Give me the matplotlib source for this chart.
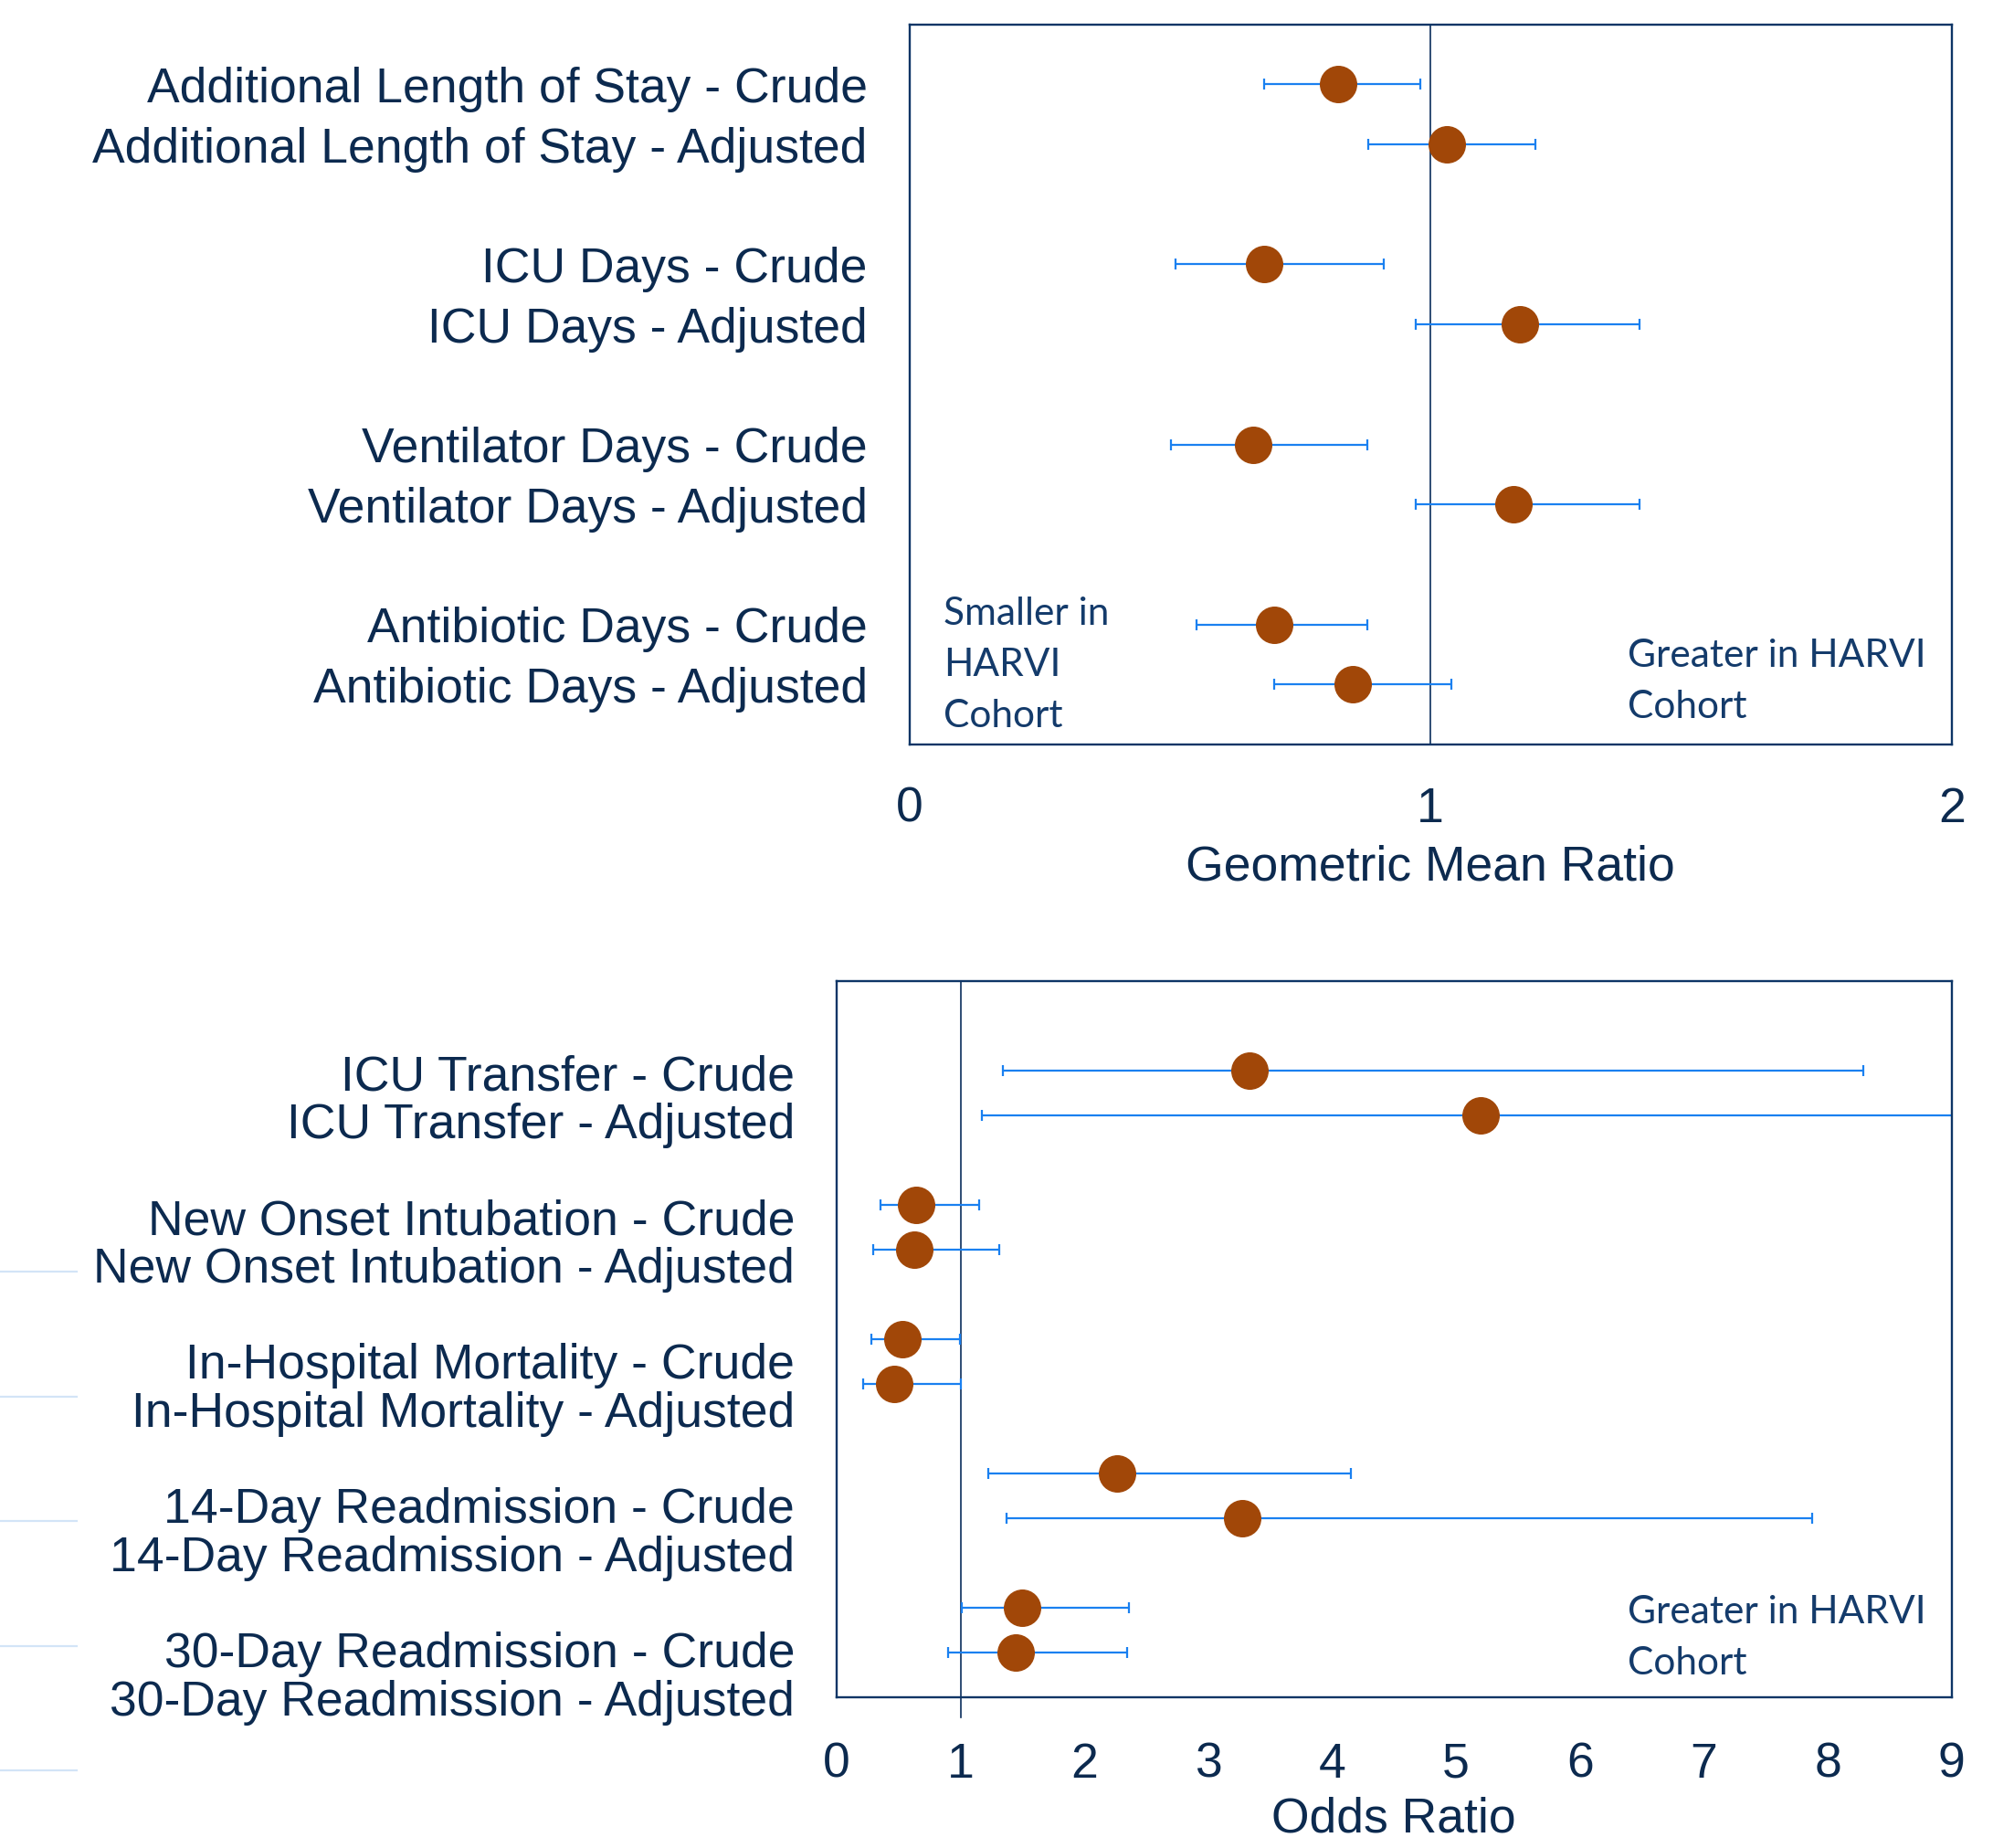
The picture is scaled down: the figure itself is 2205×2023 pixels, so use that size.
import matplotlib
matplotlib.use("Agg")
import matplotlib.pyplot as plt
import numpy as np

# ---------------- data ----------------
top_labels = ["Additional Length of Stay - Crude", "Additional Length of Stay - Adjusted",
              "ICU Days - Crude", "ICU Days - Adjusted",
              "Ventilator Days - Crude", "Ventilator Days - Adjusted",
              "Antibiotic Days - Crude", "Antibiotic Days - Adjusted"]
top_est = [0.822, 1.032, 0.681, 1.171, 0.660, 1.160, 0.700, 0.851]
top_lo = [0.681, 0.881, 0.511, 0.971, 0.501, 0.971, 0.551, 0.700]
top_hi = [0.981, 1.201, 0.911, 1.401, 0.879, 1.401, 0.879, 1.040]
top_ticks = [0, 1, 2]

bot_labels = ["ICU Transfer - Crude", "ICU Transfer - Adjusted",
              "New Onset Intubation - Crude", "New Onset Intubation - Adjusted",
              "In-Hospital Mortality - Crude", "In-Hospital Mortality - Adjusted",
              "14-Day Readmission - Crude", "14-Day Readmission - Adjusted",
              "30-Day Readmission - Crude", "30-Day Readmission - Adjusted"]
bot_est = [3.33, 5.20, 0.64, 0.626, 0.534, 0.466, 2.264, 3.276, 1.497, 1.448]
bot_lo = [1.34, 1.17, 0.356, 0.294, 0.282, 0.215, 1.221, 1.368, 1.012, 0.896]
bot_hi = [8.29, 10.3, 1.153, 1.313, 0.994, 1.006, 4.153, 7.871, 2.356, 2.344]
bot_ticks = list(range(10))

# ---------------- style ----------------
W, H = 2205, 2023
LABEL_FONT = "Liberation Sans"
NOTE_FONT = "Lato"
TXT = "#0c2a4f"
NOTE = "#143b6b"
SPINE = "#0d3566"
REF = "#0b2e5c"
PT = "#a14708"
ERR = "#1a80f0"
FS = 38.5
NFS = 30.5

fig = plt.figure(figsize=(W / 100, H / 100), dpi=100)


def fx(px):
    return px / W


def fy(py):
    return 1 - py / H


def draw_forest(ax, est, lo, hi, ypos):
    est = np.asarray(est)
    err = np.vstack([est - np.asarray(lo), np.asarray(hi) - est])
    ax.errorbar(est, ypos, xerr=err, fmt="none", ecolor=ERR, elinewidth=1.6,
                capsize=4.3, capthick=1.6, zorder=2)
    ax.plot(est, ypos, "o", ms=28.5, color=PT, mec=PT, zorder=3)
    for s in ax.spines.values():
        s.set_color(SPINE)
        s.set_linewidth(1.7)
    ax.tick_params(length=0, labelsize=FS, labelcolor=TXT)
    for t in ax.get_xticklabels() + ax.get_yticklabels():
        t.set_fontfamily(LABEL_FONT)


# ---------------- top panel ----------------
ax1 = fig.add_axes([fx(995.7), fy(815), fx(2136.7 - 995.7), (815 - 26.7) / H])
ypos_top = [0, 1, 3, 4, 6, 7, 9, 10]
draw_forest(ax1, top_est, top_lo, top_hi, ypos_top)
ax1.axvline(1, color=REF, lw=1.2, zorder=1)
ax1.set_xlim(0, 2)
ax1.set_ylim(11, -1)
ax1.set_xticks(top_ticks)
ax1.set_xticklabels([str(t) for t in top_ticks], fontfamily=LABEL_FONT)
ax1.set_yticks(ypos_top)
ax1.set_yticklabels(top_labels, fontfamily=LABEL_FONT)
ax1.tick_params(axis="x", pad=33)
ax1.tick_params(axis="y", pad=33)
fig.text(fx(1566), fy(949), "Geometric Mean Ratio", ha="center", va="center",
         fontsize=FS, color=TXT, family=LABEL_FONT)

for i, line in enumerate(["Smaller in", "HARVI", "Cohort"]):
    fig.text(fx(1033), fy(672 + i * 56), line, ha="left", va="center",
             fontsize=NFS, color=NOTE, family=NOTE_FONT)
for i, line in enumerate(["Greater in HARVI", "Cohort"]):
    fig.text(fx(1782), fy(718 + i * 56), line, ha="left", va="center",
             fontsize=NFS, color=NOTE, family=NOTE_FONT)

# ---------------- bottom panel ----------------
ax2 = fig.add_axes([fx(916), fy(1858), fx(2136.7 - 916), (1858 - 1074) / H])
ypos_bot = [0, 1, 3, 4, 6, 7, 9, 10, 12, 13]
draw_forest(ax2, bot_est, bot_lo, bot_hi, ypos_bot)
ax2.set_xlim(0, 9)
ax2.set_ylim(14, -2)
ax2.plot([1, 1], [-2, 14.45], color=REF, lw=1.2, zorder=1, clip_on=False)
ax2.set_xticks(bot_ticks)
ax2.set_xticklabels([str(t) for t in bot_ticks], fontfamily=LABEL_FONT)
ax2.set_yticks([])
ax2.tick_params(axis="x", pad=35)
fig.text(fx(1526), fy(1992), "Odds Ratio", ha="center", va="center",
         fontsize=FS, color=TXT, family=LABEL_FONT)

for g in range(5):
    for j in range(2):
        fig.text(fx(870), fy(1179 + g * 158 + j * 53), bot_labels[2 * g + j],
                 ha="right", va="center", fontsize=FS, color=TXT, family=LABEL_FONT)

for i, line in enumerate(["Greater in HARVI", "Cohort"]):
    fig.text(fx(1782), fy(1765 + i * 56), line, ha="left", va="center",
             fontsize=NFS, color=NOTE, family=NOTE_FONT)

# faint leftover gridline stubs at left edge
for k in range(5):
    yy = fy(1392 + k * 136.5)
    fig.add_artist(plt.Line2D([0, fx(84)], [yy, yy], color="#d3e4f7", lw=1.6))

fig.savefig("out.png", dpi=100, facecolor="white")
